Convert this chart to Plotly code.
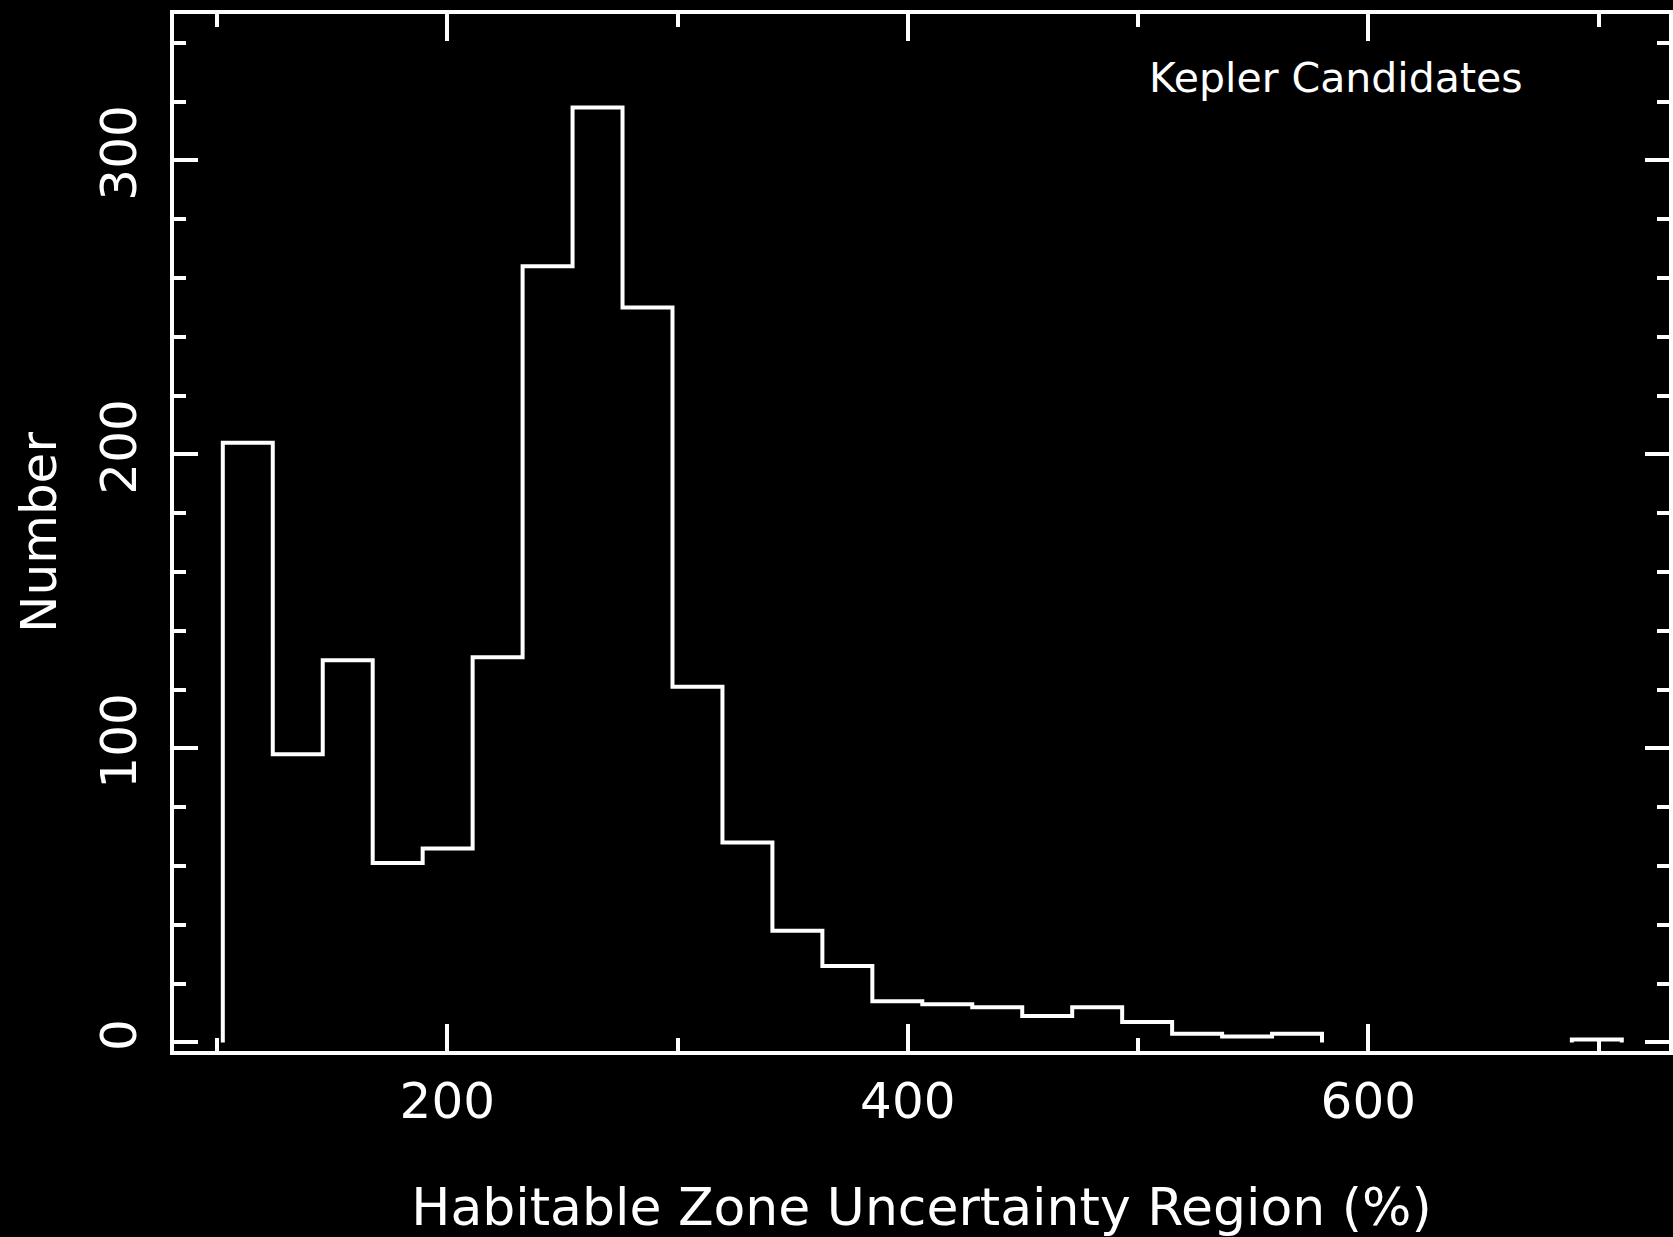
import plotly.graph_objects as go

# ---- data ----
first_bin_edge = 102.5          # left edge of first histogram bin (%)
bin_width = 21.7                # histogram bin width (%)
counts = [204, 98, 130, 61, 66, 131, 264, 318, 250, 121, 68, 38, 26, 14,
          13, 12, 9, 12, 7, 3, 2, 3, 0, 0, 0, 0, 0, 1]
x_tick_vals = [200, 400, 600]
y_tick_vals = [0, 100, 200, 300]
x_title = "Habitable Zone Uncertainty Region (%)"
y_title = "Number"
label_text = "Kepler Candidates"

# ---- build the step outline (runs of non-empty bins) ----
xs, ys = [], []
in_run = False
for i, c in enumerate(counts):
    left = first_bin_edge + i * bin_width
    right = left + bin_width
    if c > 0:
        if not in_run:
            xs += [left, left]
            ys += [0, c]
            in_run = True
        else:
            xs.append(left)
            ys.append(c)
        xs.append(right)
        ys.append(c)
    else:
        if in_run:
            xs.append(left)
            ys.append(0)
            xs.append(None)
            ys.append(None)
            in_run = False
if in_run:
    xs.append(xs[-1])
    ys.append(0)

FONT = "DejaVu Sans"

fig = go.Figure(
    go.Scatter(x=xs, y=ys, mode="lines", connectgaps=False,
               line=dict(color="white", width=4), hoverinfo="skip")
)

fig.update_layout(
    width=1673, height=1237,
    paper_bgcolor="black", plot_bgcolor="black",
    margin=dict(l=174, r=0, t=14, b=186),
    showlegend=False,
    font=dict(family=FONT, color="white", size=50),
)

fig.update_xaxes(
    range=[81.3, 730.6],
    showgrid=False, zeroline=False,
    showline=True, linecolor="white", linewidth=4, mirror="ticks",
    ticks="inside", ticklen=27, tickwidth=4, tickcolor="white",
    tickvals=x_tick_vals, ticktext=[str(v) for v in x_tick_vals],
    tickfont=dict(family=FONT, size=50, color="white"),
    ticklabelstandoff=3,
    minor=dict(ticks="inside", ticklen=13, tickwidth=4, tickcolor="white",
               tick0=0, dtick=100, showgrid=False),
    title=dict(text=x_title, font=dict(family=FONT, size=52, color="white"),
               standoff=62),
)

fig.update_yaxes(
    range=[-2.9, 349.8],
    showgrid=False, zeroline=False,
    showline=True, linecolor="white", linewidth=4, mirror="ticks",
    ticks="inside", ticklen=24, tickwidth=4, tickcolor="white",
    tickvals=y_tick_vals, ticktext=[str(v) for v in y_tick_vals],
    tickangle=-90,
    tickfont=dict(family=FONT, size=50, color="white"),
    ticklabelstandoff=14,
    minor=dict(ticks="inside", ticklen=12, tickwidth=4, tickcolor="white",
               tick0=0, dtick=20, showgrid=False),
    title=dict(text=y_title, font=dict(family=FONT, size=50, color="white"),
               standoff=19),
)

fig.add_annotation(
    x=586, y=328, xref="x", yref="y",
    text=label_text, showarrow=False,
    xanchor="center", yanchor="middle",
    font=dict(family=FONT, size=41, color="white"),
)

fig.write_html(
    "out.html",
    config={"displayModeBar": False},
    post_script="document.body.style.margin='0';"
                "document.body.style.background='black';",
)
